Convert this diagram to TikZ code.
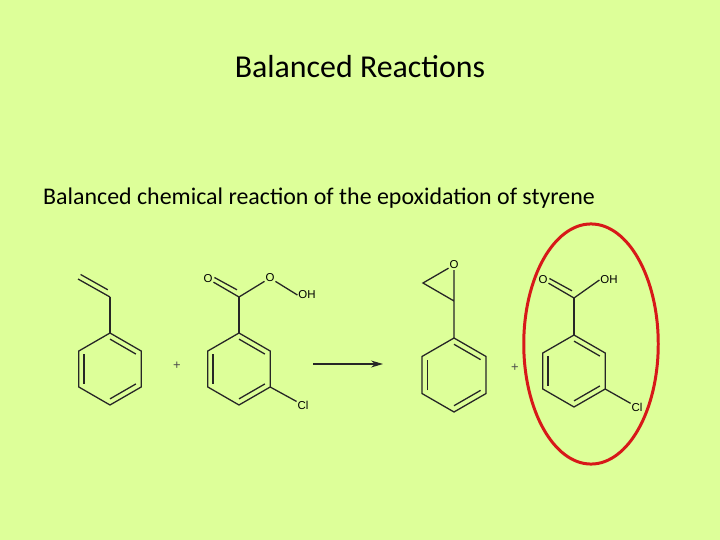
\documentclass[tikz,border=0pt]{standalone}
\usepackage{fontspec}
\setmainfont{Carlito}
\newfontfamily\atomfont{Liberation Sans}
\usetikzlibrary{calc,arrows.meta,shapes.geometric}
\definecolor{bg}{RGB}{221,255,153}
\definecolor{ring}{RGB}{215,25,25}
\tikzset{bond/.style={line width=1.3pt,black!85},
 atom/.style={font=\atomfont\fontsize{11.5}{12}\selectfont,inner sep=0.8pt},
 plus/.style={font=\atomfont\fontsize{13}{13}\selectfont,text=black!70}}
\newcommand{\benz}[4]{% name cx cy r
 \foreach \i/\a in {1/-90,2/-30,3/30,4/90,5/150,6/210}{\coordinate (#1\i) at ($(#2,#3)+(\a:#4)$);}
 \coordinate (#1c) at (#2,#3);
 \draw[bond] (#11)--(#12)--(#13)--(#14)--(#15)--(#16)--cycle;
 \draw[bond] ($(#1c)!0.83!(#15)$)--($(#1c)!0.83!(#16)$);
 \draw[bond] ($(#1c)!0.83!(#11)$)--($(#1c)!0.83!(#12)$);
 \draw[bond] ($(#1c)!0.83!(#13)$)--($(#1c)!0.83!(#14)$);}
\begin{document}
\begin{tikzpicture}[x=1bp,y=-1bp]
\fill[bg] (0,0) rectangle (720,540);
\useasboundingbox (0,0) rectangle (720,540);
\node[font=\fontsize{32}{36}\selectfont] (title) at (360,67) {Balanced Reactions};
\node[font=\fontsize{24}{28}\selectfont,anchor=west,inner sep=0] (sub) at (43,198) {Balanced chemical reaction of the epoxidation of styrene};
% styrene
\benz{s}{110}{369}{36}
\coordinate (sv) at (110,297);
\coordinate (sw) at (78,279);
\draw[bond] (s1)--(sv);
\draw[bond] (sv)--(sw);
\draw[bond] ($(sv)!0.15!(sw)+(2.6,-4.5)$)--($(sw)+(2.6,-4.5)$);
\node[plus] (p1) at (177,366) {+};
% mCPBA
\benz{m}{239}{369}{36}
\coordinate (mc) at (239,297);
\node[atom] (mo1) at (208,279) {O};
\node[atom] (mo2) at (270,278) {O};
\node[atom] (moh) at (307,295) {OH};
\node[atom] (mcl) at (303,405) {Cl};
\draw[bond] (m1)--(mc);
\draw[bond] (mc)--(mo1);
\draw[bond] ($(mc)!0.15!(mo1)+(2.6,-4.5)$)--($(mo1.east)+(1,-1.5)$);
\draw[bond] (mc)--(mo2);
\draw[bond] (mo2)--(moh.west);
\draw[bond] (m3)--(mcl);
% arrow
\coordinate (a1) at (313,364);
\coordinate (a2) at (383,364);
\draw[bond,-{Stealth[length=12pt,width=7pt]}] (a1)--(a2);
% styrene oxide
\benz{e}{454}{375}{37}
\coordinate (ec1) at (454,301);
\coordinate (ec2) at (423,283);
\node[atom] (eo) at (454,265) {O};
\draw[bond] (e1)--(ec1)--(ec2)--(eo)--(ec1);
\node[plus] (p2) at (515,368) {+};
% benzoic acid
\benz{b}{574}{371}{36}
\coordinate (bc) at (574,298);
\node[atom] (bo1) at (543,280) {O};
\node[atom] (boh) at (609,280) {OH};
\node[atom] (bcl) at (637,407) {Cl};
\draw[bond] (b1)--(bc);
\draw[bond] (bc)--(bo1);
\draw[bond] ($(bc)!0.15!(bo1)+(2.6,-4.5)$)--($(bo1.east)+(1,-1.5)$);
\draw[bond] (bc)--(boh.west);
\draw[bond] (b3)--(bcl);
\node[draw=ring,line width=3pt,ellipse,inner sep=0,minimum width=135,minimum height=241] (circ) at (591,344) {};
\end{tikzpicture}
\end{document}
